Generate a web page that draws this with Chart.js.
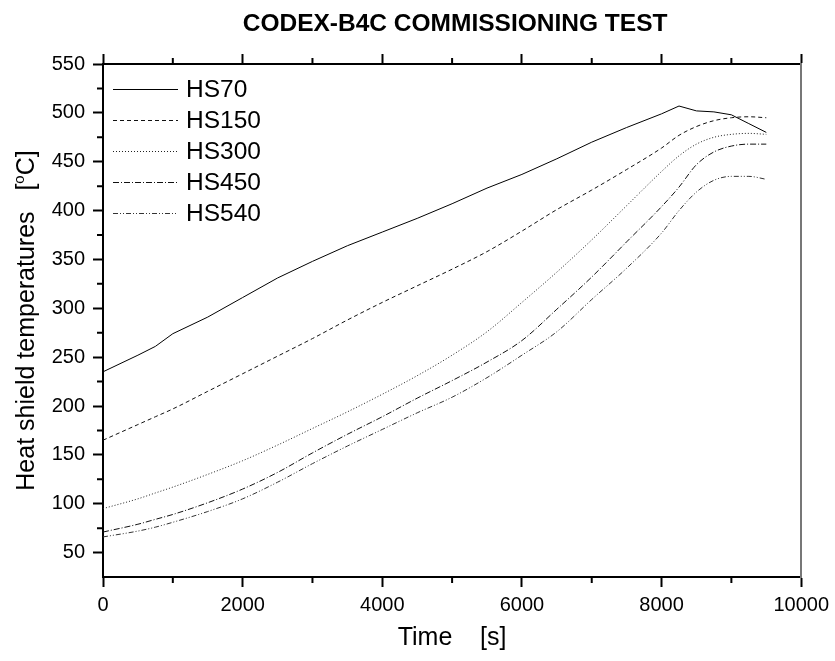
<!DOCTYPE html>
<html>
<head>
<meta charset="utf-8">
<script src="https://cdn.jsdelivr.net/npm/chart.js@4.4.1/dist/chart.umd.min.js"></script>
<style>
  body { margin: 0; background: #fff; }
  #wrap { width: 835px; height: 661px; }
</style>
</head>
<body>
<div id="wrap"><canvas id="tempChart" width="835" height="661"></canvas></div>
<script>
// time axis (s) and the five heat shield thermocouples (deg C)
const timeSec = [0, 500, 750, 1000, 1500, 2000, 2500, 3000, 3500, 4000, 4500, 5000,
                 5500, 6000, 6500, 7000, 7500, 8000, 8250, 8500, 8750, 9000, 9250, 9500];
const hs70  = [235, 252, 261, 274, 291, 311, 331, 348, 364, 378, 392, 407,
               423, 437, 453, 470, 485, 499, 507, 502, 501, 498, 489, 480];
const hs150 = [165, 181, 189, 197, 215, 233, 251, 269, 288, 306, 323, 340,
               358, 379, 401, 421, 442, 464, 477, 486, 492, 495, 496, 495];
const hs300 = [95, 105, 111, 117, 130, 144, 160, 177, 194, 212, 231, 252,
               276, 306, 337, 370, 405, 440, 456, 468, 475, 478, 479, 478];
const hs450 = [71, 79, 84, 89, 101, 115, 132, 152, 171, 189, 208, 226,
               245, 267, 299, 332, 368, 404, 424, 447, 460, 466, 468, 468];
const hs540 = [66, 72, 76, 81, 92, 105, 122, 141, 159, 176, 193, 209,
               229, 252, 276, 309, 341, 377, 400, 419, 431, 435, 435, 432];

const seriesNames = ['HS70', 'HS150', 'HS300', 'HS450', 'HS540'];
const xMajorTicks = [0, 2000, 4000, 6000, 8000, 10000];
const xMinorTicks = [1000, 3000, 5000, 7000, 9000];
const yMajorTicks = [50, 100, 150, 200, 250, 300, 350, 400, 450, 500, 550];
const yMinorTicks = [75, 125, 175, 225, 275, 325, 375, 425, 475, 525];

const FONT = 'Liberation Sans, Arial, Helvetica, sans-serif';

function toPoints(vals) {
    return timeSec.map((t, i) => ({ x: t, y: vals[i] }));
}

const dashes = [[], [4, 3], [1, 2], [6, 2, 1, 2], [5, 2, 1, 2, 1, 2]];
const lineColors = ['#000', '#111', '#222', '#111', '#333'];
const seriesData = [hs70, hs150, hs300, hs450, hs540];

const datasets = seriesNames.map((name, i) => ({
    label: name,
    data: toPoints(seriesData[i]),
    borderColor: lineColors[i],
    borderWidth: 1,
    borderDash: dashes[i],
    pointRadius: 0,
    fill: false,
    cubicInterpolationMode: i === 0 ? 'default' : 'monotone',
    tension: 0
}));

// extra drawing: minor ticks, titles, in-plot legend
const decorations = {
    id: 'decorations',
    afterDraw(chart) {
        const ctx = chart.ctx;
        const area = chart.chartArea;
        const xs = chart.scales.x;
        const ys = chart.scales.y;
        ctx.save();

        // minor ticks
        ctx.strokeStyle = '#000';
        ctx.lineWidth = 2;
        ctx.beginPath();
        xMinorTicks.forEach(v => {
            const px = xs.getPixelForValue(v);
            ctx.moveTo(px, area.bottom);
            ctx.lineTo(px, area.bottom + 6);
            ctx.moveTo(px, area.top);
            ctx.lineTo(px, area.top - 6);
        });
        yMinorTicks.forEach(v => {
            const py = ys.getPixelForValue(v);
            ctx.moveTo(area.left - 6, py);
            ctx.lineTo(area.left, py);
        });
        ctx.stroke();

        const midX = (area.left + area.right) / 2;
        const midY = (area.top + area.bottom) / 2;

        // chart title
        ctx.fillStyle = '#000';
        ctx.textAlign = 'center';
        ctx.textBaseline = 'alphabetic';
        ctx.font = 'bold 24.5px ' + FONT;
        ctx.fillText('CODEX-B4C COMMISSIONING TEST', midX + 3, 31);

        // x axis title
        ctx.font = '25px ' + FONT;
        ctx.fillText('Time    [s]', midX, 645);

        // y axis title with superscript o
        const partA = 'Heat shield temperatures   [';
        const partB = 'o';
        const partC = 'C]';
        ctx.font = '25px ' + FONT;
        const wA = ctx.measureText(partA).width;
        const wC = ctx.measureText(partC).width;
        ctx.font = '15px ' + FONT;
        const wB = ctx.measureText(partB).width;
        const total = wA + wB + wC;
        ctx.translate(34, midY);
        ctx.rotate(-Math.PI / 2);
        ctx.textAlign = 'left';
        let cx = -total / 2;
        ctx.font = '25px ' + FONT;
        ctx.fillText(partA, cx, 0);
        cx += wA;
        ctx.font = '15px ' + FONT;
        ctx.fillText(partB, cx, -10);
        cx += wB;
        ctx.font = '25px ' + FONT;
        ctx.fillText(partC, cx, 0);
        ctx.setTransform(1, 0, 0, 1, 0, 0);

        // legend inside the plot
        ctx.font = '24.5px ' + FONT;
        ctx.textAlign = 'left';
        ctx.textBaseline = 'middle';
        chart.data.datasets.forEach((ds, i) => {
            const rowY = area.top + 25 + i * 31;
            ctx.strokeStyle = ds.borderColor;
            ctx.lineWidth = 1;
            ctx.setLineDash(ds.borderDash);
            ctx.beginPath();
            ctx.moveTo(area.left + 10, rowY + 0.5);
            ctx.lineTo(area.left + 75, rowY + 0.5);
            ctx.stroke();
            ctx.setLineDash([]);
            ctx.fillStyle = '#000';
            ctx.fillText(ds.label, area.left + 83, rowY + 1);
        });
        ctx.restore();
    }
};

const tickFont = { family: FONT, size: 20 };

new Chart(document.getElementById('tempChart').getContext('2d'), {
    type: 'line',
    data: { datasets: datasets },
    options: {
        responsive: false,
        animation: false,
        devicePixelRatio: 1,
        layout: { padding: { left: 0, right: 32, top: 0, bottom: 0 } },
        plugins: {
            legend: { display: false },
            tooltip: { enabled: false },
            title: { display: false }
        },
        scales: {
            x: {
                type: 'linear',
                position: 'bottom',
                min: 0,
                max: 10000,
                afterBuildTicks: s => { s.ticks = xMajorTicks.map(v => ({ value: v })); },
                afterFit: s => { s.height = 84; },
                ticks: { font: tickFont, color: '#000', padding: 6, maxRotation: 0, autoSkip: false,
                         callback: v => String(v) },
                grid: { drawOnChartArea: false, drawTicks: true, tickLength: 10, tickWidth: 2, tickColor: '#000' },
                border: { color: '#000', width: 2 }
            },
            xTop: {
                type: 'linear',
                position: 'top',
                min: 0,
                max: 10000,
                afterBuildTicks: s => { s.ticks = xMajorTicks.map(v => ({ value: v })); },
                afterFit: s => { s.height = 64; },
                ticks: { display: false },
                grid: { drawOnChartArea: false, drawTicks: true, tickLength: 10, tickWidth: 2, tickColor: '#000' },
                border: { color: '#000', width: 2 }
            },
            y: {
                type: 'linear',
                position: 'left',
                min: 25,
                max: 550,
                afterBuildTicks: s => { s.ticks = yMajorTicks.map(v => ({ value: v })); },
                afterFit: s => { s.width = 103; },
                ticks: { font: tickFont, color: '#000', padding: 8, autoSkip: false },
                grid: { drawOnChartArea: false, drawTicks: true, tickLength: 10, tickWidth: 2, tickColor: '#000' },
                border: { color: '#000', width: 2 }
            },
            yRight: {
                type: 'linear',
                position: 'right',
                min: 25,
                max: 550,
                afterFit: s => { s.width = 0; },
                ticks: { display: false },
                grid: { drawOnChartArea: false, drawTicks: false },
                border: { color: '#777', width: 2 }
            }
        }
    },
    plugins: [decorations]
});
</script>
</body>
</html>
